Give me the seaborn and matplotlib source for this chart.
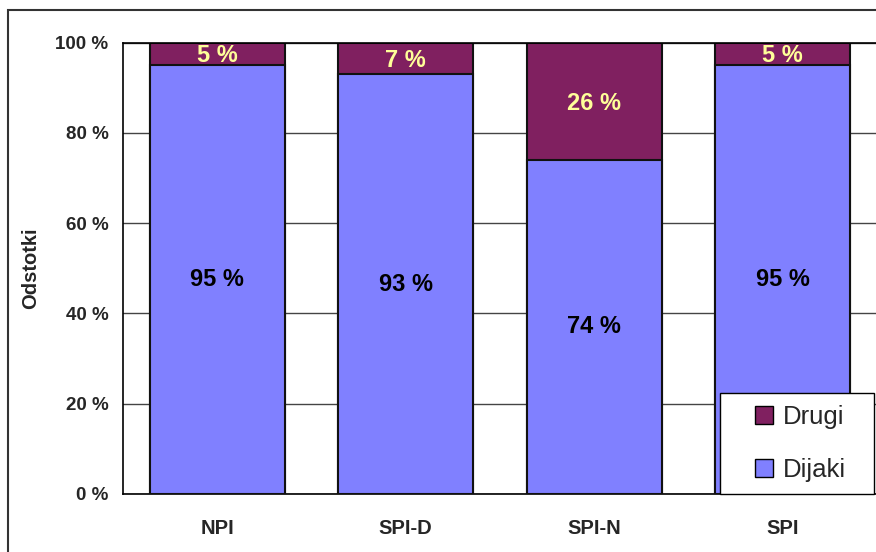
import matplotlib
matplotlib.use("Agg")
import matplotlib.pyplot as plt
import seaborn as sns
import numpy as np
import pandas as pd
from matplotlib.lines import Line2D
from matplotlib.patches import Rectangle
from matplotlib.ticker import FixedLocator

categories = ["NPI", "SPI-D", "SPI-N", "SPI"]
dijaki = [95, 93, 74, 95]
drugi = [5, 7, 26, 5]
yticks = [0, 20, 40, 60, 80, 100]
ytick_labels = ["0 %", "20 %", "40 %", "60 %", "80 %", "100 %"]
series_names = ["Drugi", "Dijaki"]

c_dijaki = "#8080FF"
c_drugi = "#802060"
c_label_top = "#FFFF99"

sns.set_style("white")
plt.rcParams["font.family"] = ["Liberation Sans", "DejaVu Sans"]

fig = plt.figure(figsize=(8.76, 5.52), dpi=100)
ax = fig.add_axes([123 / 876, 1 - 494 / 552, 754 / 876, (494 - 42.6) / 552])

totals = [a + b for a, b in zip(dijaki, drugi)]
df = pd.DataFrame({"cat": categories, "total": totals, "dijaki": dijaki})

sns.barplot(data=df, x="cat", y="total", color=c_drugi, saturation=1, width=0.716,
            edgecolor="#111111", linewidth=1.5, ax=ax, zorder=2)
sns.barplot(data=df, x="cat", y="dijaki", color=c_dijaki, saturation=1, width=0.716,
            edgecolor="#111111", linewidth=1.5, ax=ax, zorder=3)

for i in range(len(categories)):
    ax.text(i, dijaki[i] / 2, f"{dijaki[i]} %", ha="center", va="center",
            fontsize=17, fontweight="bold", color="black", zorder=5)
    ax.text(i, dijaki[i] + drugi[i] / 2 - 0.4, f"{drugi[i]} %", ha="center", va="center",
            fontsize=17, fontweight="bold", color=c_label_top, zorder=5)

ax.set_xlim(-0.5, len(categories) - 0.5)
ax.set_ylim(0, 100)
ax.set_yticks(yticks)
ax.set_yticklabels(ytick_labels, fontsize=13.5, fontweight="bold")
ax.set_xticks(range(len(categories)))
ax.set_xticklabels(categories, fontsize=14.5, fontweight="bold")
ax.xaxis.set_minor_locator(FixedLocator(np.arange(-0.5, len(categories), 1.0)))
ax.tick_params(axis="x", which="major", length=0, pad=18)
ax.tick_params(axis="x", which="minor", length=4.5, width=1, direction="out", color="black")
ax.tick_params(axis="y", which="major", length=4.5, width=1, direction="out", color="black", pad=6)
ax.set_xlabel("")
ax.set_ylabel("Odstotki", fontsize=14.5, fontweight="bold", labelpad=11)

ax.yaxis.grid(True, color="#444444", linewidth=1)
ax.set_axisbelow(True)
for s in ["left", "bottom", "top"]:
    ax.spines[s].set_visible(True)
    ax.spines[s].set_color("black")
    ax.spines[s].set_linewidth(1.2)
ax.spines["right"].set_visible(False)

handles = [
    Line2D([], [], linestyle="none", marker="s", markersize=13, markerfacecolor=c_drugi,
           markeredgecolor="black", markeredgewidth=1),
    Line2D([], [], linestyle="none", marker="s", markersize=13, markerfacecolor=c_dijaki,
           markeredgecolor="black", markeredgewidth=1),
]
leg = ax.legend(handles, series_names, loc="lower left",
                bbox_to_anchor=(597 / 754, 0.0, 154 / 754, 0.23), mode="expand",
                borderaxespad=0, fontsize=18.5, frameon=True, fancybox=False,
                edgecolor="black", framealpha=1, borderpad=0.45, labelspacing=1.15,
                handlelength=2.5, handletextpad=-0.5)
leg.get_frame().set_linewidth(1)
leg.set_zorder(10)

fig.patches.append(Rectangle((8 / 876, -0.1), 2, 1 - 10 / 552 + 0.1,
                             transform=fig.transFigure, fill=False,
                             edgecolor="#333333", linewidth=1.5))

fig.savefig("out.png", dpi=100)
